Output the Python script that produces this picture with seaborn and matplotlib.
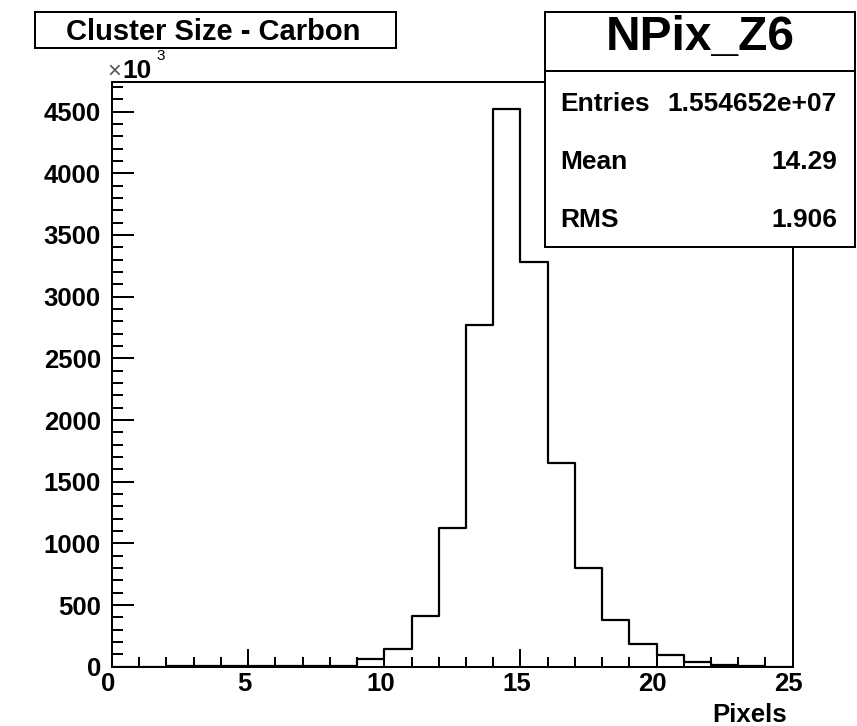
import numpy as np
import pandas as pd
import matplotlib
matplotlib.use("Agg")
import matplotlib.pyplot as plt
import matplotlib.transforms as mtransforms
from matplotlib.patches import Rectangle
from matplotlib.lines import Line2D
from matplotlib.ticker import MultipleLocator
import seaborn as sns

# Cluster size distribution for carbon: one bin per pixel count, contents in thousands
pixel_bins = list(range(25))
counts_k = [0, 0, 8, 8, 8, 8, 8, 8, 8, 60, 145, 415, 1125, 2770, 4520,
            3280, 1650, 800, 380, 185, 95, 40, 12, 8, 0]

hist_name = "NPix_Z6"
hist_title = "Cluster Size - Carbon"
x_title = "Pixels"
stat_labels = ["Entries", "Mean", "RMS"]
stat_values = ["1.554652e+07", "14.29", "1.906"]

x_range = (0, 25)
y_top_k = 4738

sns.set_style("white")
plt.rcParams["font.family"] = ["Liberation Sans", "DejaVu Sans"]
plt.rcParams["font.weight"] = "bold"
plt.rcParams["axes.edgecolor"] = "black"
plt.rcParams["text.color"] = "black"
plt.rcParams["axes.labelcolor"] = "black"

W, H, DPI = 857, 726, 100
LW = 1.44
fig = plt.figure(figsize=(W / DPI, H / DPI), dpi=DPI)
fig.patch.set_facecolor("white")


def fx(px):
    return px / W


def fy(py):
    return 1 - py / H


ax = fig.add_axes([fx(112), fy(666.7), (792.7 - 112) / W, (666.7 - 82.3) / H])

df = pd.DataFrame({"pixels": np.array(pixel_bins) + 0.5, "count": counts_k})
sns.histplot(data=df, x="pixels", weights="count", binwidth=1, binrange=x_range,
             element="step", fill=False, color="black", linewidth=1.6, ax=ax)

ax.set_xlim(*x_range)
ax.set_ylim(0, y_top_k)
ax.set_ylabel("")
for s in ax.spines.values():
    s.set_linewidth(LW)
    s.set_color("black")

ax.xaxis.set_major_locator(MultipleLocator(5))
ax.xaxis.set_minor_locator(MultipleLocator(1))
ax.yaxis.set_major_locator(MultipleLocator(500))
ax.yaxis.set_minor_locator(MultipleLocator(100))
ax.tick_params(axis="both", which="both", direction="in", width=LW,
               color="black", labelcolor="black",
               bottom=True, left=True, top=False, right=False)
ax.tick_params(axis="x", which="major", length=13, pad=3.5, labelsize=18.5)
ax.tick_params(axis="x", which="minor", length=7)
ax.tick_params(axis="y", which="major", length=16, pad=8, labelsize=18.5)
ax.tick_params(axis="y", which="minor", length=8)
for lbl in ax.get_xticklabels() + ax.get_yticklabels():
    lbl.set_fontweight("bold")

shift = mtransforms.ScaledTranslation(-4 / DPI, 0, fig.dpi_scale_trans)
for lbl in ax.get_xticklabels():
    lbl.set_transform(lbl.get_transform() + shift)

ax.set_xlabel(x_title, fontsize=18.5, fontweight="bold", color="black",
              ha="right", va="top")
ax.xaxis.set_label_coords((787 - 112) / (792.7 - 112), (666.7 - 703) / (666.7 - 82.3))

# Axis multiplier
fig.text(fx(107), fy(78), "\u00d7", fontsize=17, fontweight="normal",
         color="#555555", ha="left", va="baseline")
fig.text(fx(122), fy(78), "10", fontsize=19, fontweight="bold",
         color="black", ha="left", va="baseline")
fig.text(fx(156), fy(60), "3", fontsize=11, fontweight="normal",
         color="black", ha="left", va="baseline")

# Title box
fig.patches.append(Rectangle((fx(35), fy(48)), (396 - 35) / W, 36 / H,
                             transform=fig.transFigure, facecolor="white",
                             edgecolor="black", linewidth=LW, zorder=2))
fig.text(fx(213), fy(39.5), hist_title, fontsize=21, fontweight="bold",
         color="black", ha="center", va="baseline", zorder=3)

# Statistics box
fig.patches.append(Rectangle((fx(545), fy(247)), (855 - 545) / W, (247 - 12) / H,
                             transform=fig.transFigure, facecolor="white",
                             edgecolor="black", linewidth=LW, zorder=2))
fig.lines.append(Line2D([fx(545), fx(855)], [fy(71), fy(71)],
                        transform=fig.transFigure, color="black",
                        linewidth=LW, zorder=3))
fig.text(fx(700), fy(50), hist_name, fontsize=34.5, fontweight="bold",
         color="black", ha="center", va="baseline", zorder=3)
for i, (lab, val) in enumerate(zip(stat_labels, stat_values)):
    yb = 111 + i * 58
    fig.text(fx(560), fy(yb), lab, fontsize=19, fontweight="bold",
             color="black", ha="left", va="baseline", zorder=3)
    fig.text(fx(837), fy(yb), val, fontsize=19, fontweight="bold",
             color="black", ha="right", va="baseline", zorder=3)

fig.savefig("out.png", dpi=DPI, facecolor="white")
